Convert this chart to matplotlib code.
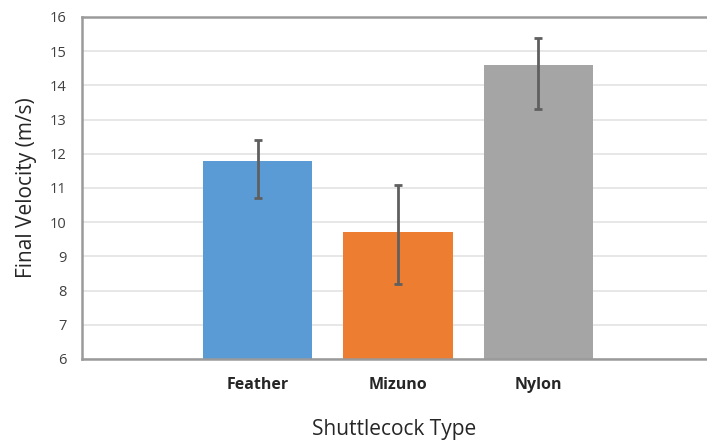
import matplotlib

matplotlib.use('Agg')
import matplotlib.pyplot as plt
import numpy as np

# chart data
categories = ['Feather', 'Mizuno', 'Nylon']
velocity = [11.8, 9.7, 14.6]
err_low = [1.1, 1.5, 1.3]
err_high = [0.6, 1.4, 0.8]
bar_colors = ['#5B9BD5', '#ED7D31', '#A5A5A5']
y_ticks = [6, 7, 8, 9, 10, 11, 12, 13, 14, 15, 16]

plt.rcParams['font.family'] = ['Open Sans', 'DejaVu Sans']

fig = plt.figure(figsize=(7.07, 4.47), dpi=100)
ax = fig.add_axes([0.116, 0.197, 0.884, 0.765])

x = np.arange(len(categories))
ax.bar(x, np.array(velocity) - 6, bottom=6, width=0.78, color=bar_colors, zorder=2)
ax.errorbar(x, velocity, yerr=[err_low, err_high], fmt='none',
            ecolor='#5f5f5f', elinewidth=2, capsize=3, capthick=2, zorder=3)

ax.set_ylim(6, 16)
ax.set_xlim(-1.25, 3.2)
ax.set_yticks(y_ticks)
ax.set_yticklabels([str(t) for t in y_ticks], fontsize=10.5, color='#404040')
ax.set_xticks(x)
ax.set_xticklabels(categories, fontsize=11.5, fontweight='bold', color='#262626')
ax.tick_params(axis='both', length=0)
ax.tick_params(axis='y', pad=11)
ax.tick_params(axis='x', pad=13)

ax.grid(axis='y', color='#e3e3e3', linewidth=1.2, zorder=0)
ax.set_axisbelow(True)

for side in ['left', 'bottom', 'top']:
    ax.spines[side].set_color('#9a9a9a')
    ax.spines[side].set_linewidth(1.8)
ax.spines['right'].set_visible(False)

ax.set_ylabel('Final Velocity (m/s)', fontsize=15, color='#262626', labelpad=9)
ax.set_xlabel('Shuttlecock Type', fontsize=15, color='#262626', labelpad=19)

plt.savefig('out.png', dpi=100)
